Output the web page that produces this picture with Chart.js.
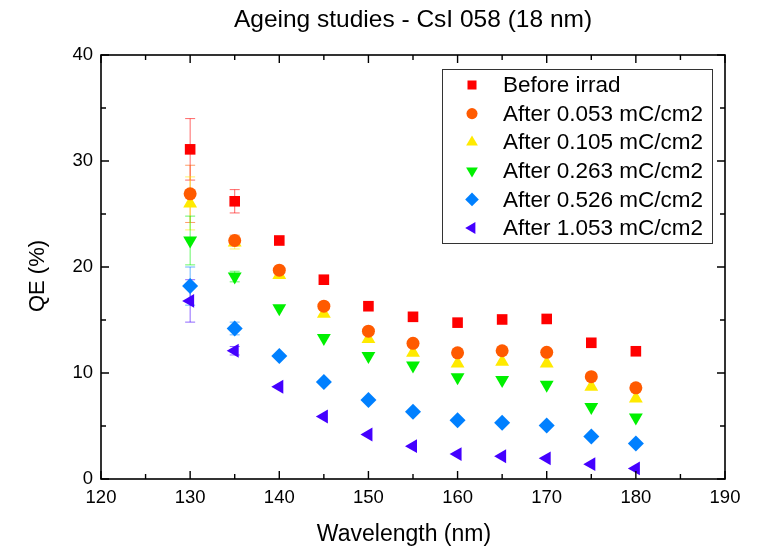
<!DOCTYPE html>
<html>
<head>
<meta charset="utf-8">
<script src="https://cdn.jsdelivr.net/npm/chart.js@4/dist/chart.umd.min.js"></script>
<style>
    html, body { margin: 0; padding: 0; background: #fff; }
    #wrap { width: 763px; height: 552px; }
</style>
</head>
<body>
<div id="wrap"><canvas id="qe"></canvas></div>
<script>
// data
const wavelength = [130, 135, 140, 145, 150, 155, 160, 165, 170, 175, 180];
const seriesNames = [
    "Before irrad",
    "After 0.053 mC/cm2",
    "After 0.105 mC/cm2",
    "After 0.263 mC/cm2",
    "After 0.526 mC/cm2",
    "After 1.053 mC/cm2",
];
const qeBefore = [31.1, 26.2, 22.5, 18.8, 16.3, 15.3, 14.75, 15.05, 15.1, 12.85, 12.05];
const qe0053 = [26.9, 22.5, 19.7, 16.3, 13.95, 12.8, 11.9, 12.1, 11.95, 9.65, 8.6];
const qe0105 = [26.0, 22.3, 19.25, 15.6, 13.2, 11.9, 10.9, 11.05, 10.9, 8.7, 7.6];
const qe0263 = [22.5, 19.1, 16.1, 13.3, 11.6, 10.7, 9.6, 9.35, 8.9, 6.8, 5.8];
const qe0526 = [18.2, 14.2, 11.6, 9.15, 7.45, 6.35, 5.55, 5.3, 5.05, 4.0, 3.35];
const qe1053 = [16.8, 12.1, 8.7, 5.9, 4.2, 3.1, 2.35, 2.15, 1.95, 1.4, 1.0];
// symmetric error bars (only the first points show visible ones)
const errBefore = [2.9, 1.1, 0, 0, 0, 0, 0, 0, 0, 0, 0];
const err0053 = [2.7, 0.5, 0, 0, 0, 0, 0, 0, 0, 0, 0];
const err0105 = [2.5, 0.6, 0, 0, 0, 0, 0, 0, 0, 0, 0];
const err0263 = [2.3, 0.5, 0, 0, 0, 0, 0, 0, 0, 0, 0];
const err0526 = [1.8, 0.6, 0, 0, 0, 0, 0, 0, 0, 0, 0];
const err1053 = [2.0, 0.4, 0, 0, 0, 0, 0, 0, 0, 0, 0];
const xTicks = [120, 130, 140, 150, 160, 170, 180, 190];
const yTicks = [0, 10, 20, 30, 40];

const FONT = "'Liberation Sans', Arial, sans-serif";

const styles = [
    { color: "#ff0000", shape: "rect", radius: 7.5, rotation: 0 },
    { color: "#ff5a00", shape: "circle", radius: 6.5, rotation: 0 },
    { color: "#ffea00", shape: "triangle", radius: 8, rotation: 0 },
    { color: "#00f000", shape: "triangle", radius: 8, rotation: 180 },
    { color: "#0080ff", shape: "rectRot", radius: 8, rotation: 0 },
    { color: "#4400ff", shape: "triangle", radius: 8, rotation: 270 },
];
const values = [qeBefore, qe0053, qe0105, qe0263, qe0526, qe1053];
const errors = [errBefore, err0053, err0105, err0263, err0526, err1053];

const datasets = values.map((vals, i) => ({
    label: seriesNames[i],
    data: wavelength.map((w, j) => ({ x: w, y: vals[j] })),
    errs: errors[i],
    showLine: false,
    pointStyle: styles[i].shape,
    pointRadius: styles[i].radius,
    pointRotation: styles[i].rotation,
    pointBackgroundColor: styles[i].color,
    pointBorderColor: styles[i].color,
    pointBorderWidth: 0,
    pointHoverRadius: styles[i].radius,
}));

const drawMarker = (ctx, style, x, y) => {
    ctx.save();
    ctx.fillStyle = style.color;
    ctx.strokeStyle = style.color;
    ctx.lineWidth = 0;
    if (Chart.helpers && Chart.helpers.drawPoint) {
        Chart.helpers.drawPoint(ctx, {
            pointStyle: style.shape,
            rotation: style.rotation,
            radius: style.radius,
            borderWidth: 0,
        }, x, y);
    }
    ctx.restore();
};

const errorBars = {
    id: "errorBars",
    beforeDatasetsDraw(chart) {
        const { ctx, scales } = chart;
        ctx.save();
        ctx.lineWidth = 1;
        chart.data.datasets.forEach((ds, i) => {
            ctx.strokeStyle = styles[i].color;
            ctx.globalAlpha = 0.6;
            ds.data.forEach((p, j) => {
                const e = ds.errs[j];
                if (!e) return;
                const x = scales.x.getPixelForValue(p.x);
                const yTop = scales.y.getPixelForValue(p.y + e);
                const yBot = scales.y.getPixelForValue(p.y - e);
                ctx.beginPath();
                ctx.moveTo(x, yTop);
                ctx.lineTo(x, yBot);
                ctx.moveTo(x - 5, yTop);
                ctx.lineTo(x + 5, yTop);
                ctx.moveTo(x - 5, yBot);
                ctx.lineTo(x + 5, yBot);
                ctx.stroke();
            });
        });
        ctx.restore();
    },
};

const frame = {
    id: "frame",
    afterDatasetsDraw(chart) {
        const { ctx, chartArea: a, scales } = chart;
        ctx.save();
        ctx.strokeStyle = "#000";
        ctx.lineWidth = 1.6;
        ctx.strokeRect(a.left, a.top, a.right - a.left, a.bottom - a.top);
        ctx.lineWidth = 1.4;
        ctx.beginPath();
        for (let v = 120; v <= 190; v += 5) {
            const x = scales.x.getPixelForValue(v);
            const len = v % 10 === 0 ? 8 : 5;
            ctx.moveTo(x, a.bottom);
            ctx.lineTo(x, a.bottom - len);
            ctx.moveTo(x, a.top);
            ctx.lineTo(x, a.top + len);
        }
        for (let v = 0; v <= 40; v += 5) {
            const y = scales.y.getPixelForValue(v);
            const len = v % 10 === 0 ? 8 : 5;
            ctx.moveTo(a.left, y);
            ctx.lineTo(a.left + len, y);
            ctx.moveTo(a.right, y);
            ctx.lineTo(a.right - len, y);
        }
        ctx.stroke();

        // titles
        ctx.fillStyle = "#000";
        ctx.textAlign = "center";
        ctx.textBaseline = "middle";
        ctx.font = "24.5px " + FONT;
        ctx.fillText("Ageing studies - CsI 058 (18 nm)", 413, 20);
        ctx.font = "23px " + FONT;
        ctx.fillText("Wavelength (nm)", 404, 535);
        ctx.save();
        ctx.translate(38, 276);
        ctx.rotate(-Math.PI / 2);
        ctx.font = "22px " + FONT;
        ctx.fillText("QE (%)", 0, 0);
        ctx.restore();

        // legend box
        const lx = 442, ly = 69, lw = 270, lh = 174, row = 28.6;
        ctx.fillStyle = "#fff";
        ctx.fillRect(lx, ly, lw, lh);
        ctx.strokeStyle = "#333";
        ctx.lineWidth = 1;
        ctx.strokeRect(lx + 0.5, ly + 0.5, lw, lh);
        ctx.font = "22.5px " + FONT;
        ctx.textAlign = "left";
        seriesNames.forEach((name, i) => {
            const cy = ly + 16 + i * row;
            const st = Object.assign({}, styles[i], { radius: styles[i].radius * 0.85 });
            drawMarker(ctx, st, 472, cy);
            ctx.fillStyle = "#000";
            ctx.fillText(name, 503, cy + 1);
        });
        ctx.restore();
    },
};

new Chart(document.getElementById("qe"), {
    type: "scatter",
    data: { datasets },
    options: {
        responsive: true,
        maintainAspectRatio: false,
        animation: false,
        layout: { padding: { top: 55, right: 38, left: 0, bottom: 0 } },
        plugins: {
            legend: { display: false },
            title: { display: false },
            tooltip: { enabled: false },
        },
        scales: {
            x: {
                type: "linear",
                min: 120,
                max: 190,
                afterFit: (s) => { s.height = 73; },
                afterBuildTicks: (s) => { s.ticks = xTicks.map((v) => ({ value: v })); },
                grid: { display: false, drawTicks: false },
                border: { display: false },
                ticks: {
                    padding: 8,
                    color: "#000",
                    font: { size: 18.5, family: FONT },
                    maxRotation: 0,
                },
            },
            y: {
                type: "linear",
                min: 0,
                max: 40,
                afterFit: (s) => { s.width = 101; },
                afterBuildTicks: (s) => { s.ticks = yTicks.map((v) => ({ value: v })); },
                grid: { display: false, drawTicks: false },
                border: { display: false },
                ticks: {
                    padding: 8,
                    color: "#000",
                    font: { size: 18.5, family: FONT },
                },
            },
        },
    },
    plugins: [errorBars, frame],
});
</script>
</body>
</html>
